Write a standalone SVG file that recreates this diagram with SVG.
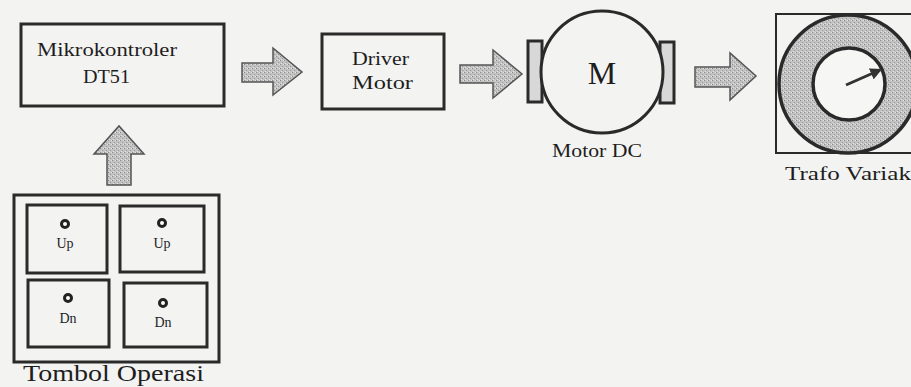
<svg xmlns="http://www.w3.org/2000/svg" width="911" height="387" viewBox="0 0 911 387">
<defs>
<pattern id="stip" width="4" height="4" patternUnits="userSpaceOnUse">
<rect width="4" height="4" fill="#c2c2c2"/>
<rect x="0" y="0" width="1" height="1" fill="#8a8a8a"/>
<rect x="2" y="2" width="1" height="1" fill="#9a9a9a"/>
<rect x="3" y="0" width="1" height="1" fill="#e4e4e4"/>
<rect x="1" y="3" width="1" height="1" fill="#e0e0e0"/>
</pattern>
<marker id="ah" viewBox="0 0 10 10" refX="8" refY="5" markerWidth="4" markerHeight="4" orient="auto">
<path d="M0,0 L10,5 L0,10 Z" fill="#333"/>
</marker>
</defs>
<style>
.box{fill:none;stroke:#2a2a2a;stroke-width:3}
.ibox{fill:none;stroke:#2a2a2a;stroke-width:3}
.arr{fill:url(#stip);stroke:#555;stroke-width:1.5}
.t{font-family:"Liberation Serif","Times New Roman",serif;fill:#1e1e1e}
.dot{fill:#fff;stroke:#222;stroke-width:3}
</style>
<rect width="911" height="387" fill="#f3f3f2"/>

<g id="connectors">
<path class="arr" d="M242,63 L273,63 L273,48 L302,72 L273,95 L273,82 L242,82 Z"/>
<path class="arr" d="M460,65 L493,65 L493,50 L522,74 L493,98 L493,83 L460,83 Z"/>
<path class="arr" d="M695,67 L730,67 L730,53 L756,76 L730,100 L730,87 L695,87 Z"/>
<path class="arr" d="M107,185 L107,154 L94,154 L119,126 L144,154 L131,154 L131,185 Z"/>
</g>

<g id="mikrokontroler">
<rect class="box" x="21" y="24" width="203" height="82"/>
<text class="t" x="37" y="56" font-size="18" textLength="140" lengthAdjust="spacingAndGlyphs">Mikrokontroler</text>
<text class="t" x="83" y="83" font-size="18" textLength="47" lengthAdjust="spacingAndGlyphs">DT51</text>
</g>

<g id="driver-motor">
<rect class="box" x="322" y="34" width="122" height="75"/>
<text class="t" x="352" y="65" font-size="18" textLength="57" lengthAdjust="spacingAndGlyphs">Driver</text>
<text class="t" x="352" y="89" font-size="18" textLength="61" lengthAdjust="spacingAndGlyphs">Motor</text>
</g>

<g id="motor-dc">
<rect x="528" y="41" width="14" height="61" fill="#d8d8d8" stroke="#2a2a2a" stroke-width="3"/>
<rect x="660" y="42" width="14" height="61" fill="#d8d8d8" stroke="#2a2a2a" stroke-width="3"/>
<circle cx="602" cy="72" r="61" fill="#f3f3f2" stroke="#2a2a2a" stroke-width="3"/>
<text class="t" x="602" y="84" font-size="32" text-anchor="middle">M</text>
<text class="t" x="552" y="157" font-size="18" textLength="90" lengthAdjust="spacingAndGlyphs">Motor DC</text>
</g>

<g id="trafo-variak">
<rect x="776" y="14" width="150" height="139" fill="none" stroke="#2a2a2a" stroke-width="2"/>
<circle cx="848" cy="84" r="69" fill="url(#stip)" stroke="#2a2a2a" stroke-width="3.5"/>
<circle cx="849" cy="84" r="36" fill="#f6f6f5" stroke="#2a2a2a" stroke-width="3.5"/>
<line x1="846" y1="85" x2="880" y2="70" stroke="#333" stroke-width="3" marker-end="url(#ah)"/>
<text class="t" x="785" y="180" font-size="18" textLength="126" lengthAdjust="spacingAndGlyphs">Trafo Variak</text>
</g>

<g id="tombol-operasi">
<rect class="box" x="14" y="195" width="205" height="167"/>
<rect class="ibox" x="27" y="205" width="80" height="68"/>
<rect class="ibox" x="120" y="206" width="84" height="66"/>
<rect class="ibox" x="28" y="280" width="81" height="67"/>
<rect class="ibox" x="124" y="283" width="83" height="64"/>
<circle class="dot" cx="65" cy="224" r="3.5"/>
<circle class="dot" cx="162" cy="223" r="3.5"/>
<circle class="dot" cx="68" cy="298" r="3.5"/>
<circle class="dot" cx="163" cy="303" r="3.5"/>
<text class="t" x="65" y="248" font-size="14" text-anchor="middle">Up</text>
<text class="t" x="162" y="248" font-size="14" text-anchor="middle">Up</text>
<text class="t" x="68" y="323" font-size="14" text-anchor="middle">Dn</text>
<text class="t" x="163" y="327" font-size="14" text-anchor="middle">Dn</text>
<text class="t" x="23" y="381" font-size="24" textLength="181" lengthAdjust="spacingAndGlyphs">Tombol Operasi</text>
</g>
</svg>
